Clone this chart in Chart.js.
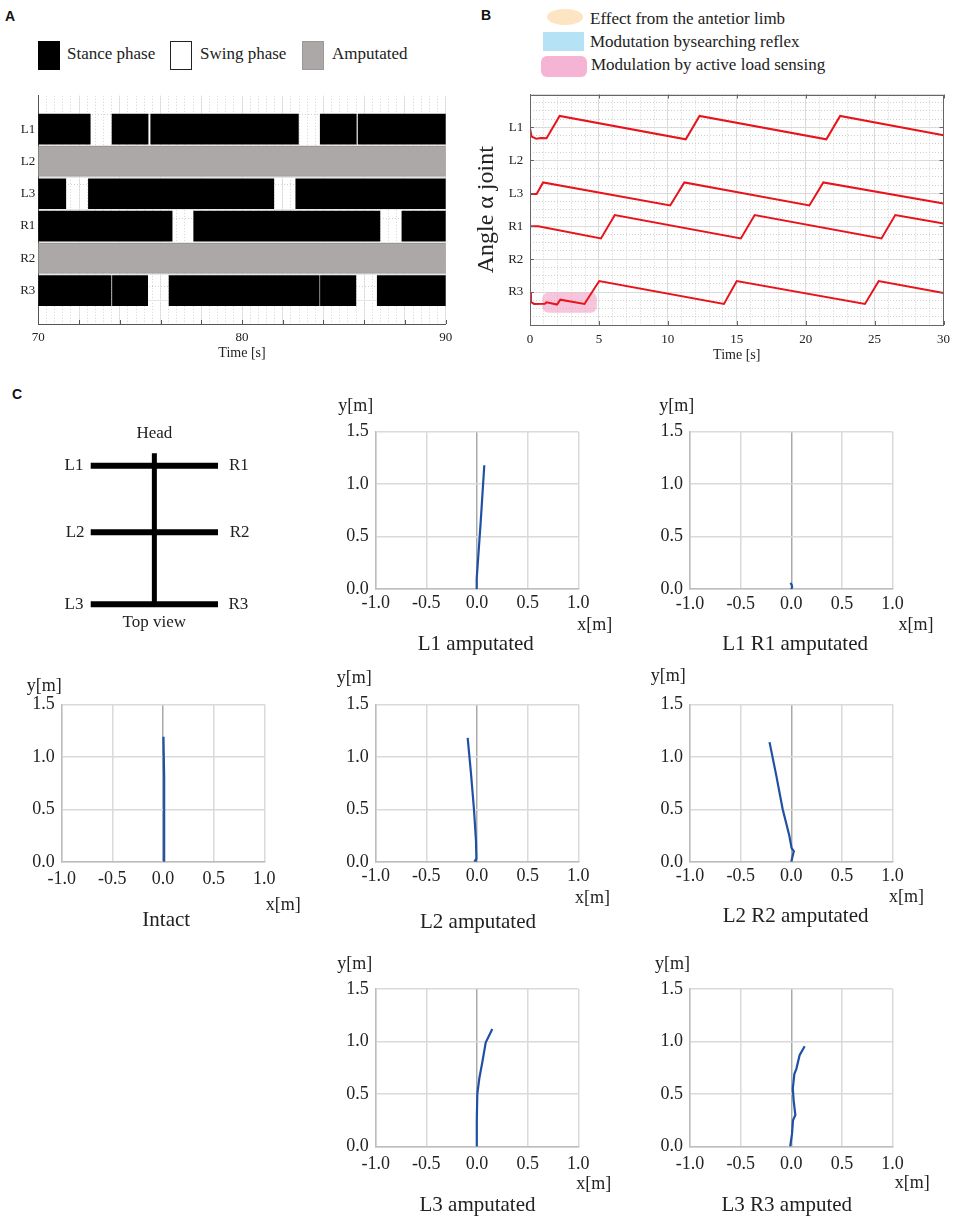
<!DOCTYPE html>
<html>
<head>
<meta charset="utf-8">
<script src="https://cdn.jsdelivr.net/npm/chart.js@4.4.0/dist/chart.umd.min.js"></script>
<style>
  body { margin: 0; background: #fff; }
  #page { position: relative; width: 957px; height: 1219px; overflow: hidden;
          font-family: "Liberation Serif", "Times New Roman", serif; color: #222; }
  canvas { position: absolute; }
  .txt { position: absolute; white-space: nowrap; font-size: 17px; line-height: 20px; }
  .letter { position: absolute; font: bold 14px "Liberation Sans", Arial, sans-serif; line-height: 17px; color: #111; }
  .sw { position: absolute; box-sizing: border-box; }
</style>
</head>
<body>
<div id="page">
  <div class="letter" style="left:5px;top:8px">A</div>
  <div class="letter" style="left:481px;top:7px">B</div>
  <div class="letter" style="left:12px;top:386px">C</div>

  <!-- legend A -->
  <div class="sw" style="left:38px;top:41px;width:22px;height:29px;background:#000"></div>
  <div class="txt" style="left:67px;top:44px">Stance phase</div>
  <div class="sw" style="left:170px;top:41px;width:22px;height:29px;background:#fff;border:1px solid #222"></div>
  <div class="txt" style="left:200px;top:44px">Swing phase</div>
  <div class="sw" style="left:302px;top:41px;width:22px;height:29px;background:#aca8a7;border:1px solid #9c9897"></div>
  <div class="txt" style="left:332px;top:44px">Amputated</div>

  <!-- legend B -->
  <div class="sw" style="left:547px;top:9px;width:36px;height:16px;border-radius:50%;background:#fde4c2"></div>
  <div class="txt" style="left:590px;top:9px">Effect from the antetior limb</div>
  <div class="sw" style="left:543px;top:32px;width:41px;height:19px;background:#b6e2f6"></div>
  <div class="txt" style="left:590px;top:32px">Modutation bysearching reflex</div>
  <div class="sw" style="left:541px;top:56px;width:46px;height:21px;border-radius:6px;background:#f6b4d5"></div>
  <div class="txt" style="left:591px;top:55px">Modulation by active load sensing</div>
</div>

<script>
// ---------- Panel A: stance phases, 70-90 s ----------
const legs = ['L1', 'L2', 'L3', 'R1', 'R2', 'R3'];
const gaitTimeRange = [70, 90];
const stanceL1 = [[70, 72.55], [73.62, 75.39], [75.52, 82.77], [83.84, 85.61], [85.70, 90]];
const stanceL3 = [[70, 71.35], [72.46, 81.56], [82.64, 90]];
const stanceR1 = [[70, 76.57], [77.63, 86.77], [87.85, 90]];
const stanceR3 = [[70, 73.57], [73.64, 75.37], [76.42, 83.79], [83.85, 85.59], [86.64, 90]];
const amputatedLegs = ['L2', 'R2'];

// ---------- Panel B: angle alpha joint, 0-30 s (row offset + angle) ----------
const angleRows = ['R3', 'R2', 'R1', 'L3', 'L2', 'L1'];   // rows 1..6 from bottom
const angleL1 = [[0, 5.98], [0.12, 5.72], [0.45, 5.66], [0.8, 5.68], [1.2, 5.67], [2.15, 6.35],
                 [11.3, 5.64], [12.3, 6.35], [21.5, 5.64], [22.5, 6.35], [30, 5.76]];
const angleL3 = [[0, 3.98], [0.48, 3.98], [0.95, 4.33], [10.17, 3.63], [11.2, 4.33],
                 [20.27, 3.63], [21.28, 4.33], [30, 3.69]];
const angleR1 = [[0, 3.0], [0.6, 3.0], [5.15, 2.63], [6.15, 3.34], [15.3, 2.63], [16.3, 3.34],
                 [25.5, 2.63], [26.5, 3.34], [30, 3.08]];
const angleR3 = [[0, 0.97], [0.07, 0.7], [0.3, 0.64], [1.08, 0.645], [1.2, 0.69], [1.96, 0.62],
                 [2.2, 0.77], [3.95, 0.64], [5.02, 1.335], [14.07, 0.64], [15.0, 1.335],
                 [24.3, 0.64], [25.3, 1.335], [30, 0.97]];
const loadSensingSpan = { t0: 0.9, t1: 4.85, v0: 0.37, v1: 0.99 };

// ---------- Panel C: body sketch (top view) ----------
const legRowsY = [0, -0.96, -2];      // L1-R1, L2-R2, L3-R3
const legSpanX = [-1, 1];
const spineY = [0.18, -2];

// ---------- Panel C: trajectories x[m], y[m] ----------
const trajL1 = [[-0.003, 0], [-0.006, 0.05], [0.0, 0.1], [0.035, 0.62], [0.072, 1.18]];
const trajL1R1 = [[0.0, 0.0], [0.008, 0.02], [0.004, 0.04], [-0.008, 0.06]];
const trajIntact = [[0.015, 0], [0.013, 0.4], [0.01, 0.8], [0.005, 1.15], [0.002, 1.19], [0.008, 1.19]];
const trajL2 = [[0.0, 0.0], [-0.02, 0.01], [-0.006, 0.03], [-0.01, 0.2], [-0.03, 0.5], [-0.06, 0.85], [-0.092, 1.18]];
const trajL2R2 = [[0.0, 0.0], [0.012, 0.05], [0.025, 0.1], [0.003, 0.13], [-0.02, 0.25], [-0.085, 0.5],
                  [-0.15, 0.83], [-0.215, 1.14]];
const trajL3 = [[-0.003, 0], [-0.002, 0.25], [0.003, 0.5], [0.023, 0.65], [0.052, 0.8], [0.086, 0.99], [0.151, 1.12]];
const trajL3R3 = [[-0.011, 0], [0.007, 0.12], [0.017, 0.25], [0.04, 0.3], [0.023, 0.44], [0.015, 0.55],
                  [0.03, 0.69], [0.05, 0.74], [0.082, 0.87], [0.132, 0.955]];

const serif = '"Liberation Serif", "Times New Roman", serif';
Chart.defaults.font.family = serif;
Chart.defaults.font.size = 13;
Chart.defaults.color = '#222';

function addCanvas(left, top, w, h) {
  const c = document.createElement('canvas');
  c.width = w; c.height = h;
  c.style.left = left + 'px'; c.style.top = top + 'px';
  c.style.width = w + 'px'; c.style.height = h + 'px';
  document.getElementById('page').appendChild(c);
  return c;
}
const toXY = pts => pts.map(([x, y]) => ({ x, y }));

// inward tick marks + optional box, drawn from the chart's own scales
const innerTicks = {
  id: 'innerTicks',
  afterDraw(chart, args, o) {
    const { ctx, chartArea: a, scales } = chart;
    ctx.save();
    ctx.strokeStyle = o.color; ctx.lineWidth = 1;
    if (o.box) ctx.strokeRect(Math.round(a.left) + 0.5, Math.round(a.top) + 0.5,
                              Math.round(a.width) - 1, Math.round(a.height) - 1);
    ctx.beginPath();
    scales.x.ticks.forEach(t => {
      const px = Math.round(scales.x.getPixelForValue(t.value)) + 0.5;
      if (o.bottom) { ctx.moveTo(px, a.bottom); ctx.lineTo(px, a.bottom - o.len); }
      if (o.top) { ctx.moveTo(px, a.top); ctx.lineTo(px, a.top + o.len); }
    });
    scales.y.ticks.forEach(t => {
      const py = Math.round(scales.y.getPixelForValue(t.value)) + 0.5;
      if (o.left) { ctx.moveTo(a.left, py); ctx.lineTo(a.left + o.len, py); }
      if (o.right) { ctx.moveTo(a.right, py); ctx.lineTo(a.right - o.len, py); }
    });
    ctx.stroke();
    ctx.restore();
  }
};

// ---------- Panel A chart ----------
(function () {
  const stanceBars = [];
  [['L1', stanceL1], ['L3', stanceL3], ['R1', stanceR1], ['R3', stanceR3]].forEach(([leg, list]) => {
    list.forEach(iv => stanceBars.push({ y: legs.indexOf(leg), x: iv }));
  });
  const ampBars = amputatedLegs.map(leg => ({ y: legs.indexOf(leg), x: gaitTimeRange }));

  const canvas = addCanvas(0, 85, 460, 290);
  new Chart(canvas, {
    type: 'bar',
    data: {
      datasets: [
        { label: 'Stance phase', data: stanceBars, backgroundColor: '#000', barThickness: 30, grouped: false, borderWidth: 0 },
        { label: 'Amputated', data: ampBars, backgroundColor: '#aca8a7', barThickness: 30, grouped: false,
          borderWidth: 1, borderColor: '#9c9897', borderSkipped: false }
      ]
    },
    options: {
      indexAxis: 'y', responsive: false, animation: false, devicePixelRatio: 1,
      layout: { padding: { top: 7, right: 14.3, left: 0, bottom: 0 } },
      plugins: {
        legend: { display: false }, tooltip: { enabled: false },
        innerTicks: { color: '#555', len: 4, bottom: true }
      },
      scales: {
        x: {
          type: 'linear', min: gaitTimeRange[0], max: gaitTimeRange[1], position: 'bottom',
          afterFit: s => { s.height = 51; },
          ticks: { stepSize: 2, autoSkip: false, maxRotation: 0, padding: 5.4,
                   callback: v => (v % 10 === 0 ? v : '') },
          grid: { color: '#e6e6e6', drawTicks: false },
          border: { color: '#555' },
          title: { display: true, text: 'Time [s]', font: { size: 14 }, padding: { top: 0, bottom: 13.3 } }
        },
        xMinor: {
          type: 'linear', min: gaitTimeRange[0], max: gaitTimeRange[1], position: 'bottom',
          afterFit: s => { s.height = 0; },
          ticks: { display: false, stepSize: 0.4 },
          grid: { color: '#d2d2d2', drawTicks: false },
          border: { display: false, dash: [1, 2] }
        },
        y: {
          type: 'linear', min: -0.59, max: 5.59, reverse: true, position: 'left',
          afterFit: s => { s.width = 38.3; },
          ticks: { stepSize: 1, autoSkip: false, padding: 3,
                   callback: v => (Number.isInteger(v) ? legs[v] : '') },
          grid: { color: c => (c.tick && Number.isInteger(c.tick.value) ? '#e6e6e6' : 'transparent'), drawTicks: false },
          border: { color: '#555' }
        },
        yMinor: {
          type: 'linear', min: -0.59, max: 5.59, reverse: true, position: 'left',
          afterFit: s => { s.width = 0; },
          ticks: { display: false, stepSize: 0.5 },
          grid: { color: c => (c.tick && Number.isInteger(c.tick.value) ? 'transparent' : '#d2d2d2'), drawTicks: false },
          border: { display: false, dash: [1, 2] }
        }
      }
    },
    plugins: [innerTicks]
  });
})();

// ---------- Panel B chart ----------
(function () {
  const loadBox = {
    id: 'loadBox',
    beforeDatasetsDraw(chart) {
      const { ctx, scales: { x, y } } = chart;
      const l = x.getPixelForValue(loadSensingSpan.t0), r = x.getPixelForValue(loadSensingSpan.t1);
      const t = y.getPixelForValue(loadSensingSpan.v1), b = y.getPixelForValue(loadSensingSpan.v0);
      ctx.save();
      ctx.fillStyle = 'rgba(240, 150, 192, 0.55)';
      ctx.beginPath();
      ctx.roundRect(l, t, r - l, b - t, 6);
      ctx.fill();
      ctx.restore();
    }
  };
  const red = '#e8141c';
  const line = pts => ({ data: toXY(pts), borderColor: red, borderWidth: 2, pointRadius: 0, tension: 0 });
  const canvas = addCanvas(470, 80, 487, 290);
  new Chart(canvas, {
    type: 'line',
    data: { datasets: [line(angleL1), line(angleL3), line(angleR1), line(angleR3)] },
    options: {
      responsive: false, animation: false, devicePixelRatio: 1,
      layout: { padding: { top: 9, right: 9.3, left: 0, bottom: 0 } },
      plugins: {
        legend: { display: false }, tooltip: { enabled: false },
        innerTicks: { color: '#666', len: 4, box: true, bottom: true, top: true, left: true, right: true }
      },
      scales: {
        x: {
          type: 'linear', min: 0, max: 30, position: 'bottom',
          afterFit: s => { s.height = 45; },
          ticks: { stepSize: 5, maxRotation: 0, padding: 7 },
          grid: { color: '#e0e0e0', drawTicks: false },
          border: { color: '#666' },
          title: { display: true, text: 'Time [s]', font: { size: 14 }, padding: { top: 0, bottom: 6.6 } }
        },
        xMinor: {
          type: 'linear', min: 0, max: 30, position: 'bottom',
          afterFit: s => { s.height = 0; },
          ticks: { display: false, stepSize: 1 },
          grid: { color: '#cfcfcf', drawTicks: false },
          border: { display: false, dash: [1, 2] }
        },
        y: {
          type: 'linear', min: 0, max: 7, position: 'left',
          afterFit: s => { s.width = 60; },
          ticks: { stepSize: 1, autoSkip: false, padding: 6.7, callback: v => angleRows[v - 1] || '' },
          grid: { color: '#e0e0e0', drawTicks: false },
          border: { color: '#666' },
          title: { display: true, text: 'Angle α joint', font: { size: 24 }, padding: { top: 2.6, bottom: 0 } }
        },
        yMinor: {
          type: 'linear', min: 0, max: 7, position: 'left',
          afterFit: s => { s.width = 0; },
          ticks: { display: false, stepSize: 0.25 },
          grid: { color: '#cfcfcf', drawTicks: false },
          border: { display: false, dash: [1, 2] }
        }
      }
    },
    plugins: [loadBox, innerTicks]
  });
})();

// ---------- Panel C: body sketch ----------
(function () {
  const sketchText = [
    { t: 'Head', x: 0, y: 0.47 }, { t: 'Top view', x: 0, y: -2.27 },
    { t: 'L1', x: -1.262, y: legRowsY[0] }, { t: 'R1', x: 1.327, y: legRowsY[0] },
    { t: 'L2', x: -1.245, y: legRowsY[1] }, { t: 'R2', x: 1.34, y: legRowsY[1] },
    { t: 'L3', x: -1.262, y: legRowsY[2] }, { t: 'R3', x: 1.32, y: legRowsY[2] }
  ];
  const labels = {
    id: 'sketchLabels',
    afterDraw(chart) {
      const { ctx, scales: { x, y } } = chart;
      ctx.save();
      ctx.fillStyle = '#222'; ctx.font = '17px ' + serif;
      ctx.textAlign = 'center'; ctx.textBaseline = 'middle';
      sketchText.forEach(s => ctx.fillText(s.t, x.getPixelForValue(s.x), y.getPixelForValue(s.y)));
      ctx.restore();
    }
  };
  const datasets = legRowsY.map(yv => ({
    data: legSpanX.map(xv => ({ x: xv, y: yv })), borderColor: '#000', borderWidth: 6, pointRadius: 0, showLine: true
  }));
  datasets.push({ data: spineY.map(yv => ({ x: 0, y: yv })), borderColor: '#000', borderWidth: 5, pointRadius: 0, showLine: true });
  const canvas = addCanvas(0, 380, 310, 280);
  new Chart(canvas, {
    type: 'scatter',
    data: { datasets },
    options: {
      responsive: false, animation: false, devicePixelRatio: 1,
      plugins: { legend: { display: false }, tooltip: { enabled: false } },
      scales: {
        x: { type: 'linear', min: -2.425, max: 2.445, display: false },
        y: { type: 'linear', min: -2.804, max: 1.237, display: false }
      }
    },
    plugins: [labels]
  });
})();

// ---------- Panel C: trajectory plots ----------
const captions = {
  id: 'captions',
  afterDraw(chart, args, o) {
    const { ctx, chartArea: a } = chart;
    ctx.save();
    ctx.fillStyle = '#222';
    ctx.textAlign = 'center'; ctx.textBaseline = 'middle';
    ctx.font = '18px ' + serif;
    ctx.fillText('x[m]', a.right + o.xDx, a.bottom + o.xDy);
    ctx.fillText('y[m]', a.left + o.yDx, a.top + o.yDy);
    ctx.font = '21px ' + serif;
    ctx.fillText(o.title, (a.left + a.right) / 2 + o.titleDx, a.bottom + o.titleDy);
    ctx.restore();
  }
};

const trajPanels = [
  { points: trajL1, title: 'L1 amputated', left: 375.7, top: 431.7, tickPad: 3, titleDx: -1.2, titleDy: 55.7, xDx: 16.4, xDy: 35.7, yDx: -19.9, yDy: -25.7 },
  { points: trajL1R1, title: 'L1 R1 amputated', left: 690, top: 431.7, tickPad: 4, titleDx: 3.8, titleDy: 55.7, xDx: 23.5, xDy: 35.7, yDx: -13.3, yDy: -25.7 },
  { points: trajIntact, title: 'Intact', left: 61.7, top: 704.3, tickPad: 6.6, titleDx: 3.2, titleDy: 58.3, xDx: 19, xDy: 43.3, yDx: -17.5, yDy: -17.6 },
  { points: trajL2, title: 'L2 amputated', left: 375.7, top: 704.3, tickPad: 3.3, titleDx: 1, titleDy: 60.3, xDx: 14.2, xDy: 36.6, yDx: -21.5, yDy: -26 },
  { points: trajL2R2, title: 'L2 R2 amputated', left: 690, top: 704.3, tickPad: 3.3, titleDx: 4.3, titleDy: 55, xDx: 13.8, xDy: 35, yDx: -21.7, yDy: -27.6 },
  { points: trajL3, title: 'L3 amputated', left: 375.7, top: 989, tickPad: 6.7, titleDx: 0.5, titleDy: 59, xDx: 15.5, xDy: 37.3, yDx: -21, yDy: -25 },
  { points: trajL3R3, title: 'L3 R3 amputed', left: 690, top: 989, tickPad: 6.7, titleDx: -4.5, titleDy: 59, xDx: 19.7, xDy: 36.7, yDx: -17.5, yDy: -25 }
];

function trajectoryChart(p) {
  const plotW = 202.6, plotH = 157.5, W = 312, H = 280;
  const L = Math.floor(p.left - 60), T = Math.floor(p.top - 40);
  const axisW = p.left - L, padTop = p.top - T;
  const padRight = W - axisW - plotW;
  const xAxisH = H - padTop - plotH;
  const gridColor = c => (c.tick && c.tick.value === 0 ? '#a9a9a9' : '#dadada');
  const canvas = addCanvas(L, T, W, H);
  new Chart(canvas, {
    type: 'scatter',
    data: { datasets: [{ data: toXY(p.points), showLine: true, borderColor: '#1f50a6', borderWidth: 2.2, pointRadius: 0 }] },
    options: {
      responsive: false, animation: false, devicePixelRatio: 1,
      layout: { padding: { top: padTop, right: padRight, left: 0, bottom: 0 } },
      plugins: { legend: { display: false }, tooltip: { enabled: false }, captions: p },
      scales: {
        x: {
          type: 'linear', min: -1, max: 1,
          afterFit: s => { s.height = xAxisH; },
          ticks: { stepSize: 0.5, autoSkip: false, maxRotation: 0, padding: p.tickPad,
                   font: { size: 18 }, callback: v => v.toFixed(1) },
          grid: { color: gridColor, lineWidth: 1.5, drawTicks: false },
          border: { color: '#bdbdbd', width: 1.5 }
        },
        y: {
          type: 'linear', min: 0, max: 1.5,
          afterFit: s => { s.width = axisW; },
          ticks: { stepSize: 0.5, autoSkip: false, padding: 7, font: { size: 18 }, callback: v => v.toFixed(1) },
          grid: { color: '#dadada', lineWidth: 1.5, drawTicks: false },
          border: { color: '#bdbdbd', width: 1.5 }
        }
      }
    },
    plugins: [captions]
  });
}
trajPanels.forEach(trajectoryChart);
</script>
</body>
</html>
